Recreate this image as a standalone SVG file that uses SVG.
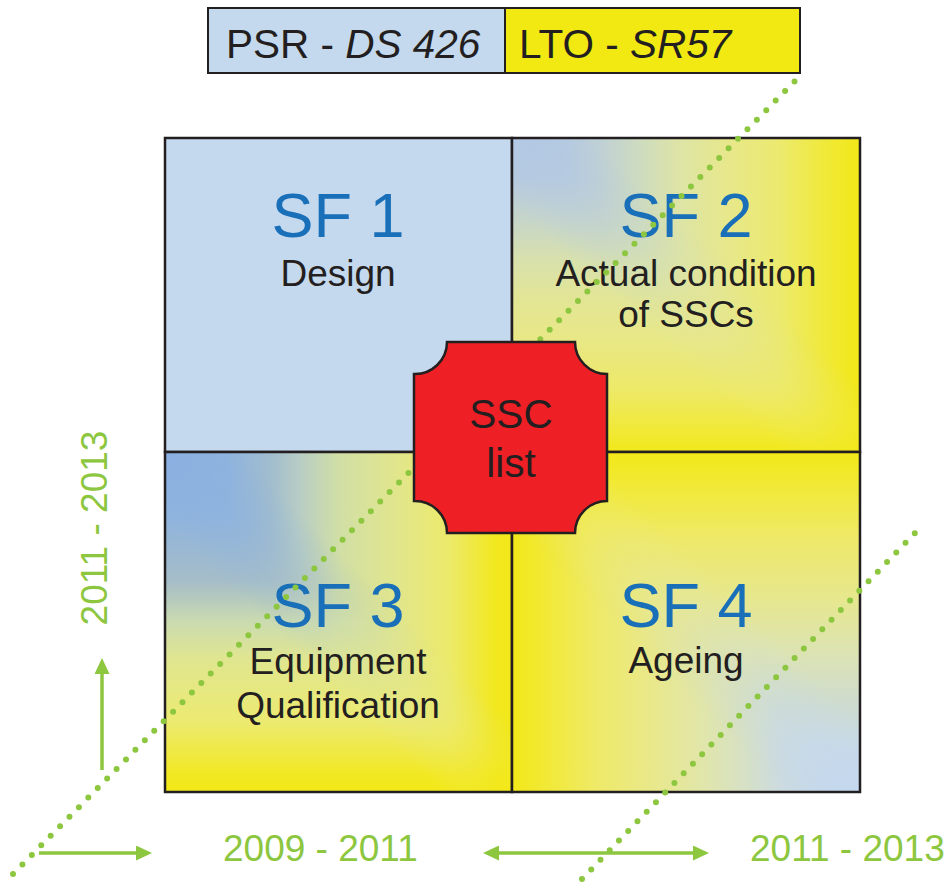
<svg xmlns="http://www.w3.org/2000/svg" width="952" height="884" viewBox="0 0 952 884">
<style>
text{font-family:"Liberation Sans",Arial,Helvetica,sans-serif}
.sf{font-size:63px;fill:#1a6fb9;text-anchor:middle}
.sub{font-size:37px;fill:#231f20;text-anchor:middle}
.leg{font-size:40.5px;fill:#231f20}
.yr{font-size:37px;fill:#8dc63f}
.edge{fill:none;stroke:#231f20;stroke-width:2.5}
.dots{stroke:#8dc63f;stroke-width:6;stroke-linecap:round;fill:none}
.arr{stroke:#8dc63f;stroke-width:3.5;fill:none}
</style>
<defs>
<!-- SF2 rectangular blend from top-left corner -->
<linearGradient id="h2" gradientUnits="userSpaceOnUse" x1="512" y1="0" x2="860" y2="0">
<stop offset="0" stop-color="#b3c8e4"/><stop offset="0.15" stop-color="#b5cae1"/><stop offset="0.25" stop-color="#bfd0d6"/><stop offset="0.37" stop-color="#cedcbf"/><stop offset="0.48" stop-color="#dde4a6"/><stop offset="0.6" stop-color="#e6e78f"/><stop offset="0.77" stop-color="#ecea6e"/><stop offset="0.93" stop-color="#f1e92d"/><stop offset="1" stop-color="#f2e818"/>
</linearGradient>
<linearGradient id="v2" gradientUnits="userSpaceOnUse" x1="0" y1="138" x2="0" y2="452">
<stop offset="0" stop-color="#b3c8e4"/><stop offset="0.13" stop-color="#b6cadf"/><stop offset="0.26" stop-color="#c6d5c9"/><stop offset="0.39" stop-color="#d8e1ac"/><stop offset="0.51" stop-color="#e2e595"/><stop offset="0.63" stop-color="#e8e888"/><stop offset="0.8" stop-color="#ede968"/><stop offset="0.95" stop-color="#f1e930"/><stop offset="1" stop-color="#f2e818"/>
</linearGradient>
<linearGradient id="k2" gradientUnits="userSpaceOnUse" x1="652.5" y1="332.1" x2="719.5" y2="257.9"><stop offset="0" stop-color="#fff"/><stop offset="1" stop-color="#000"/></linearGradient>
<mask id="m2" maskUnits="userSpaceOnUse" x="512" y="138" width="348" height="314"><rect x="512" y="138" width="348" height="314" fill="url(#k2)"/></mask>
<!-- SF3 rectangular blend from top-left corner -->
<linearGradient id="h3" gradientUnits="userSpaceOnUse" x1="165" y1="0" x2="512" y2="0">
<stop offset="0" stop-color="#8ab0e1"/><stop offset="0.18" stop-color="#8fb4de"/><stop offset="0.3" stop-color="#a0bccf"/><stop offset="0.39" stop-color="#b8cdc4"/><stop offset="0.5" stop-color="#d1dfa6"/><stop offset="0.68" stop-color="#e2e68a"/><stop offset="0.82" stop-color="#ecea6a"/><stop offset="0.95" stop-color="#f2e820"/><stop offset="1" stop-color="#f2e818"/>
</linearGradient>
<linearGradient id="v3" gradientUnits="userSpaceOnUse" x1="0" y1="452" x2="0" y2="792">
<stop offset="0" stop-color="#8ab0e1"/><stop offset="0.2" stop-color="#90b4dc"/><stop offset="0.38" stop-color="#a5bdc8"/><stop offset="0.5" stop-color="#cbdbb0"/><stop offset="0.61" stop-color="#e0e68f"/><stop offset="0.79" stop-color="#ecea72"/><stop offset="0.95" stop-color="#f2e822"/><stop offset="1" stop-color="#f2e818"/>
</linearGradient>
<linearGradient id="k3" gradientUnits="userSpaceOnUse" x1="303.5" y1="657.7" x2="373.5" y2="586.3"><stop offset="0" stop-color="#fff"/><stop offset="1" stop-color="#000"/></linearGradient>
<mask id="m3" maskUnits="userSpaceOnUse" x="165" y="452" width="347" height="340"><rect x="165" y="452" width="347" height="340" fill="url(#k3)"/></mask>
<!-- SF4 rectangular blend from bottom-right corner -->
<linearGradient id="h4" gradientUnits="userSpaceOnUse" x1="860" y1="0" x2="512" y2="0">
<stop offset="0" stop-color="#c4d8ef"/><stop offset="0.12" stop-color="#c6d9ea"/><stop offset="0.23" stop-color="#ccdbe0"/><stop offset="0.34" stop-color="#d7e1c3"/><stop offset="0.46" stop-color="#e1e6a8"/><stop offset="0.6" stop-color="#e9e88a"/><stop offset="0.75" stop-color="#eeea6a"/><stop offset="0.89" stop-color="#f1e93a"/><stop offset="1" stop-color="#f2e818"/>
</linearGradient>
<linearGradient id="v4" gradientUnits="userSpaceOnUse" x1="0" y1="792" x2="0" y2="452">
<stop offset="0" stop-color="#c4d8ef"/><stop offset="0.12" stop-color="#c7d9e8"/><stop offset="0.27" stop-color="#cfdccd"/><stop offset="0.41" stop-color="#dce3b2"/><stop offset="0.56" stop-color="#e6e790"/><stop offset="0.74" stop-color="#eee96a"/><stop offset="0.92" stop-color="#f1e930"/><stop offset="1" stop-color="#f2e818"/>
</linearGradient>
<linearGradient id="k4" gradientUnits="userSpaceOnUse" x1="721" y1="586.3" x2="651" y2="657.8"><stop offset="0" stop-color="#fff"/><stop offset="1" stop-color="#000"/></linearGradient>
<mask id="m4" maskUnits="userSpaceOnUse" x="512" y="452" width="348" height="340"><rect x="512" y="452" width="348" height="340" fill="url(#k4)"/></mask>
<marker id="ah" viewBox="0 0 16 15" refX="0" refY="7.5" markerWidth="16" markerHeight="15" markerUnits="userSpaceOnUse" orient="auto-start-reverse">
<path d="M0,0 L16,7.5 L0,15 Z" fill="#8dc63f"/>
</marker>
</defs>

<g id="legend">
<rect x="208" y="8" width="297" height="65" fill="#c5d9ee" stroke="#231f20" stroke-width="2"/>
<rect x="505" y="8" width="295" height="65" fill="#f2e912" stroke="#231f20" stroke-width="2"/>
<text class="leg" x="226" y="58">PSR - <tspan font-style="italic">DS 426</tspan></text>
<text class="leg" x="519" y="58">LTO - <tspan font-style="italic">SR57</tspan></text>
</g>

<g id="sf1">
<rect x="165" y="138" width="347" height="314" fill="#c5d9ee"/>
<rect class="edge" x="165" y="138" width="347" height="314"/>
<text class="sf" x="338" y="237">SF 1</text>
<text class="sub" x="338" y="286">Design</text>
</g>

<g id="sf2">
<rect x="512" y="138" width="348" height="314" fill="url(#h2)"/>
<rect x="512" y="138" width="348" height="314" fill="url(#v2)" mask="url(#m2)"/>
<rect class="edge" x="512" y="138" width="348" height="314"/>
<text class="sf" x="686" y="237">SF 2</text>
<text class="sub" x="686" y="286">Actual condition</text>
<text class="sub" x="686" y="327">of SSCs</text>
</g>

<g id="sf3">
<rect x="165" y="452" width="347" height="340" fill="url(#h3)"/>
<rect x="165" y="452" width="347" height="340" fill="url(#v3)" mask="url(#m3)"/>
<rect class="edge" x="165" y="452" width="347" height="340"/>
<text class="sf" x="338" y="627">SF 3</text>
<text class="sub" x="338" y="674">Equipment</text>
<text class="sub" x="338" y="718">Qualification</text>
</g>

<g id="sf4">
<rect x="512" y="452" width="348" height="340" fill="url(#h4)"/>
<rect x="512" y="452" width="348" height="340" fill="url(#v4)" mask="url(#m4)"/>
<rect class="edge" x="512" y="452" width="348" height="340"/>
<text class="sf" x="686" y="627">SF 4</text>
<text class="sub" x="686" y="673">Ageing</text>
</g>

<g id="connectors">
<line class="dots" x1="13" y1="874" x2="795" y2="81" stroke-dasharray="0 13.41"/>
<line class="dots" x1="582" y1="879" x2="915" y2="533" stroke-dasharray="0 13.33"/>
<line class="arr" x1="39" y1="853" x2="136" y2="853" marker-end="url(#ah)"/>
<line class="arr" x1="499" y1="853" x2="693" y2="853" marker-start="url(#ah)" marker-end="url(#ah)"/>
<line class="arr" x1="102" y1="770" x2="102" y2="674" marker-end="url(#ah)"/>
</g>

<g id="ssc">
<path d="M447,342 H575 A32,32 0 0 0 607,374 V501 A32,32 0 0 0 575,533 H447 A32,32 0 0 0 414,501 V374 A32,32 0 0 0 447,342 Z" fill="#ee2025" stroke="#231f20" stroke-width="2.5"/>
<text class="leg" x="511" y="428" text-anchor="middle">SSC</text>
<text class="leg" x="511" y="477" text-anchor="middle">list</text>
</g>

<g id="years">
<text class="yr" x="223" y="861">2009 - 2011</text>
<text class="yr" x="750" y="861">2011 - 2013</text>
<text class="yr" transform="translate(107 528) rotate(-90)" text-anchor="middle">2011 - 2013</text>
</g>
</svg>
